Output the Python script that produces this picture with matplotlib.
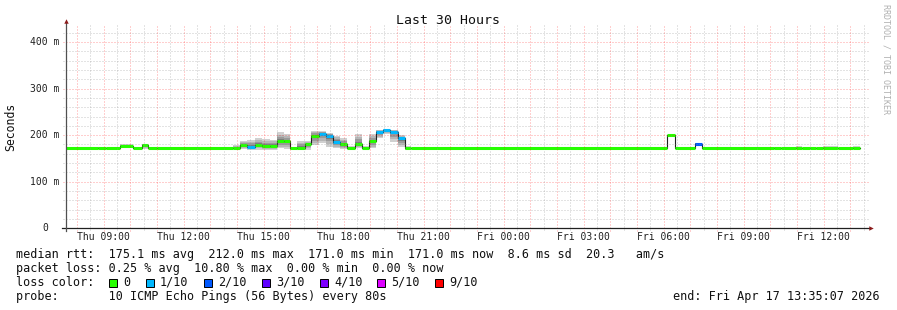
import matplotlib
matplotlib.use("Agg")
import matplotlib.pyplot as plt
from matplotlib.patches import Rectangle
import numpy as np

# ---------------- data (hours since Thu 00:00, values in ms) ----------------
seg_start = [7.585, 8.775, 9.075, 9.600, 10.088, 10.425, 10.650, 10.988, 13.838,
             14.126, 14.389, 14.663, 14.936, 15.225, 15.499, 15.750, 16.001, 16.264,
             16.538, 16.789, 17.063, 17.325, 17.599, 17.876, 18.139, 18.413, 18.686,
             18.938, 19.200, 19.474, 19.751, 20.036, 20.288, 20.539, 30.124, 30.413,
             31.189, 31.451, 34.125, 34.414, 34.950, 35.200, 35.475, 35.726, 35.963,
             36.525, 37.088]
seg_end = 37.35
median_ms = [171.5, 172.5, 171.5, 177.0, 171.5, 178.5, 172.5, 171.5, 171.5,
             178.0, 175.0, 179.0, 177.0, 177.0, 186.5, 186.5, 171.5, 173.5,
             180.0, 198.0, 203.0, 198.0, 185.5, 180.0, 172.0, 180.0, 172.0,
             186.5, 207.0, 210.5, 207.0, 193.0, 171.5, 171.5, 199.5, 171.5,
             182.0, 171.5, 171.5, 171.5, 171.5, 171.5, 171.5, 171.5, 171.5,
             171.5, 171.5]
loss_idx = [0, 0, 0, 0, 0, 0, 0, 0, 0,
            0, 1, 0, 0, 0, 0, 0, 0, 0,
            0, 0, 1, 1, 1, 0, 0, 0, 0,
            0, 1, 1, 1, 1, 0, 0, 0, 0,
            2, 0, 0, 0, 0, 0, 0, 0, 0,
            0, 0]
smoke_lo = [171, 171, 171, 172, 171, 171, 171, 171, 170,
            171, 169, 169, 169, 169, 172, 171, 168, 169,
            169, 178, 183, 175, 171.5, 170, 170, 171.5, 170,
            171.5, 193, 203.5, 185.7, 175, 168, 171, 199, 171,
            181, 171, 171, 171, 171, 171, 171, 171, 171,
            171, 171]
smoke_hi = [172, 175, 172, 180, 173, 182, 174, 172, 178,
            188, 190, 193, 191, 190, 206, 203, 174, 187,
            187, 210, 208.5, 205, 199, 193, 176, 201.5, 176,
            201.5, 212, 213.5, 212, 201, 176, 172, 200.5, 172,
            183, 172, 175, 172, 176, 172, 175, 172, 176,
            172, 176]

loss_labels = ["0", "1/10", "2/10", "3/10", "4/10", "5/10", "9/10"]
loss_colors = ["#26ff00", "#00b8ff", "#0059ff", "#5e00ff", "#7e00ff", "#dd00ff", "#ff0000"]

xtick_hours = [9, 12, 15, 18, 21, 24, 27, 30, 33, 36]
xtick_labels = ["Thu 09:00", "Thu 12:00", "Thu 15:00", "Thu 18:00", "Thu 21:00",
                "Fri 00:00", "Fri 03:00", "Fri 06:00", "Fri 09:00", "Fri 12:00"]
ytick_vals = [0, 100, 200, 300, 400]
ytick_labels = ["0", "100 m", "200 m", "300 m", "400 m"]

title = "Last 30 Hours"
rtt_line = "median rtt:  175.1 ms avg  212.0 ms max  171.0 ms min  171.0 ms now  8.6 ms sd  20.3   am/s"
loss_line = "packet loss: 0.25 % avg  10.80 % max  0.00 % min  0.00 % now"
probe_line = "probe:       10 ICMP Echo Pings (56 Bytes) every 80s"
end_line = "end: Fri Apr 17 13:35:07 2026"

x_start, x_end = 7.5853, 37.5853
y_max = 437

# ---------------- figure ----------------
W, H = 897, 310
MONO = "DejaVu Sans Mono"
fig = plt.figure(figsize=(W / 100, H / 100), dpi=100)
fig.patch.set_facecolor("white")
ax_l, ax_b, ax_w, ax_h = 66, 228.3, 800, 203.5
ax = fig.add_axes([ax_l / W, (H - ax_b) / H, ax_w / W, ax_h / H])
ax.set_xlim(x_start, x_end)
ax.set_ylim(0, y_max)
for s in ax.spines.values():
    s.set_visible(False)
ax.set_facecolor("white")

edges = np.array(seg_start + [seg_end])
med = np.array(median_ms)
lo0 = np.array(smoke_lo, dtype=float)
hi0 = np.array(smoke_hi, dtype=float)


def ext(a):
    return np.append(a, a[-1])


# smoke
for k, col in zip([1.0, 0.75, 0.5, 0.25], ["#d0d0d0", "#b6b6b6", "#9a9a9a", "#7c7c7c"]):
    lo = med - k * (med - lo0)
    hi = med + k * (hi0 - med)
    ax.fill_between(edges, ext(lo), ext(hi), step="post", color=col, lw=0, zorder=2)

# median: thin dark step line + coloured horizontal segments
ax.step(edges, ext(med), where="post", color="#202020", lw=0.8, zorder=3)
ax.hlines(med, edges[:-1], edges[1:], colors=[loss_colors[i] for i in loss_idx],
          lw=2.2, zorder=4, capstyle="butt")

# grid (drawn on top, like rrdtool)
dash = (0, (1, 2))
px_x = 1 / ax_w
px_y = 1 / ax_h
minor_kw = dict(color="#909090", alpha=0.5, lw=0.72, ls=dash, zorder=5, clip_on=False)
major_kw = dict(color="#ff0000", alpha=0.38, lw=0.72, ls=dash, zorder=5, clip_on=False)
for v in np.arange(20, y_max, 20):
    if v % 100 == 0:
        continue
    ax.axhline(v, xmin=-3 * px_x, xmax=1 + 2 * px_x, **minor_kw)
for v in ytick_vals[1:]:
    ax.axhline(v, xmin=-3 * px_x, xmax=1 + 2 * px_x, **major_kw)
for h in np.arange(8.0, x_end, 0.5):
    if h == int(h):
        ax.axvline(h, ymin=-3 * px_y, ymax=1, **major_kw)
    else:
        ax.axvline(h, ymin=-2 * px_y, ymax=1, **minor_kw)

# axes lines with arrows
ax.plot([-4 * px_x, 1 + 3 * px_x], [0, 0], transform=ax.transAxes, color="#202020",
        lw=0.9, clip_on=False, zorder=6)
ax.plot([0, 0], [-3 * px_y, 1 + 2 * px_y], transform=ax.transAxes, color="#505050",
        lw=0.9, clip_on=False, zorder=6)
ax.plot([1 + 5 * px_x], [0], marker=">", ms=3.2, color="#8b1a1a", transform=ax.transAxes,
        clip_on=False, zorder=7, mec="none")
ax.plot([0], [1 + 4 * px_y], marker="^", ms=3.2, color="#8b1a1a", transform=ax.transAxes,
        clip_on=False, zorder=7, mec="none")

# tick labels
ax.set_xticks(xtick_hours, xtick_labels)
ax.set_yticks([])
ax.tick_params(axis="x", length=0, pad=3.0, labelsize=7)
for t in ax.get_xticklabels():
    t.set_fontfamily(MONO)
    t.set_color("#202020")
for v, lab in zip(ytick_vals, ytick_labels):
    off = -6.7 if lab.endswith("m") else -17.7
    ax.annotate(lab, xy=(0, v), xycoords=("axes fraction", "data"),
                xytext=(off * 0.72, 0), textcoords="offset points",
                ha="right", va="center", fontsize=7, family=MONO, color="#202020")

# texts
def ftext(x, y, s, **kw):
    kw.setdefault("family", MONO)
    kw.setdefault("va", "center")
    fig.text(x / W, 1 - y / H, s, **kw)


ftext(448, 20, title, ha="center", fontsize=9.5, color="#101010")
ftext(11, 127, "Seconds", ha="center", rotation=90, fontsize=8.3, color="#101010")
ftext(886, 59, "RRDTOOL / TOBI OETIKER", ha="center", rotation=270, fontsize=6,
      color="#b0b0b0")

ftext(16, 254.3, rtt_line, fontsize=8.5, color="#101010")
ftext(16, 268.3, loss_line, fontsize=8.5, color="#101010")
ftext(16, 282.3, "loss color:", fontsize=8.5, color="#101010")
ftext(16, 296.3, probe_line, fontsize=8.5, color="#101010")
ftext(880, 296.3, end_line, ha="right", fontsize=8.5, color="#101010")

box_x = [108.5, 145.5, 203.5, 261.5, 319.5, 377.0, 435.0]
for bx, lab, col in zip(box_x, loss_labels, loss_colors):
    fig.add_artist(Rectangle((bx / W, 1 - 286.5 / H), 8 / W, 8 / H, transform=fig.transFigure,
                             facecolor=col, edgecolor="black", lw=0.7))
    ftext(bx + 14.5, 282.3, lab, fontsize=8.5, color="#101010")

fig.savefig("out.png", dpi=100, facecolor="white")
